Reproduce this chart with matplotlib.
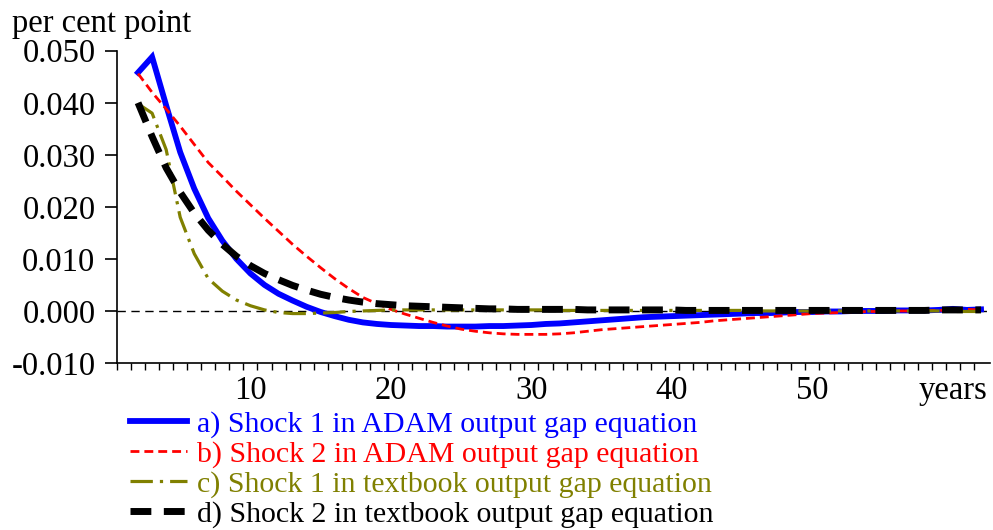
import matplotlib
matplotlib.use("Agg")
import matplotlib.pyplot as plt
import numpy as np

plt.rcParams['font.family'] = ['Liberation Serif', 'DejaVu Serif']

years = list(range(2, 63))

shock1_adam = [0.0458, 0.0488, 0.0395, 0.0305, 0.0235, 0.0178, 0.0135, 0.0100, 0.0072,
               0.0050, 0.0033, 0.0020, 0.0008, -0.0002, -0.0010, -0.0017, -0.0022, -0.0025,
               -0.0027, -0.0028, -0.0029, -0.0029, -0.0030, -0.0030, -0.0030, -0.0029, -0.0029,
               -0.0028, -0.0027, -0.0025, -0.0024, -0.0022, -0.0020, -0.0018, -0.0016, -0.0014,
               -0.0012, -0.0011, -0.0010, -0.0009, -0.0008, -0.0007, -0.0006, -0.0005, -0.0004,
               -0.0004, -0.0003, -0.0002, -0.0002, -0.0001, -0.0001, 0.0000, 0.0000, 0.0000,
               0.0001, 0.0001, 0.0001, 0.0002, 0.0004, 0.0002, 0.0003]

shock2_adam = [0.0456, 0.0420, 0.0388, 0.0355, 0.0320, 0.0285, 0.0258, 0.0230, 0.0204,
               0.0178, 0.0153, 0.0128, 0.0105, 0.0083, 0.0062, 0.0043, 0.0026, 0.0014,
               0.0003, -0.0006, -0.0014, -0.0022, -0.0029, -0.0035, -0.0039, -0.0042, -0.0044,
               -0.0045, -0.0045, -0.0045, -0.0044, -0.0042, -0.0039, -0.0036, -0.0034, -0.0032,
               -0.0030, -0.0028, -0.0026, -0.0024, -0.0022, -0.0019, -0.0017, -0.0015, -0.0013,
               -0.0011, -0.0009, -0.0007, -0.0005, -0.0004, -0.0003, -0.0002, -0.0001, -0.0001,
               0.0000, 0.0000, 0.0001, 0.0001, 0.0002, 0.0003, 0.0002]

shock1_textbook = [0.0398, 0.0380, 0.0310, 0.0180, 0.0110, 0.0062, 0.0038, 0.0021, 0.0010,
                   0.0002, -0.0003, -0.0005, -0.0005, -0.0004, -0.0003, -0.0001, 0.0000, 0.0001,
                   0.0002, 0.0002, 0.0002, 0.0002, 0.0002, 0.0002, 0.0002, 0.0002, 0.0002,
                   0.0002, 0.0002, 0.0002, 0.0001, 0.0001, 0.0001, 0.0001, 0.0001, 0.0001,
                   0.0001, 0.0001, 0.0001, 0.0001, 0.0001, 0.0001, 0.0001, 0.0001, 0.0000,
                   0.0000, 0.0000, 0.0000, 0.0000, 0.0000, 0.0000, 0.0000, 0.0000, 0.0000,
                   0.0000, 0.0000, 0.0000, 0.0000, -0.0001, -0.0001, -0.0001]

shock2_textbook = [0.0400, 0.0335, 0.0275, 0.0228, 0.0188, 0.0155, 0.0128, 0.0105, 0.0087,
                   0.0072, 0.0060, 0.0049, 0.0040, 0.0032, 0.0026, 0.0021, 0.0017, 0.0014,
                   0.0012, 0.0010, 0.0009, 0.0008, 0.0007, 0.0006, 0.0005, 0.0004, 0.0004,
                   0.0003, 0.0003, 0.0003, 0.0003, 0.0003, 0.0002, 0.0002, 0.0002, 0.0002,
                   0.0002, 0.0002, 0.0002, 0.0001, 0.0001, 0.0001, 0.0001, 0.0001, 0.0001,
                   0.0001, 0.0001, 0.0001, 0.0001, 0.0001, 0.0001, 0.0001, 0.0001, 0.0001,
                   0.0001, 0.0001, 0.0001, 0.0002, 0.0002, 0.0002, 0.0002]

labels = ["a) Shock 1 in ADAM output gap equation",
          "b) Shock 2 in ADAM output gap equation",
          "c) Shock 1 in textbook output gap equation",
          "d) Shock 2 in textbook output gap equation"]
colors = ["#0000ff", "#ff0000", "#808000", "#000000"]

y_ticks = [-0.010, 0.000, 0.010, 0.020, 0.030, 0.040, 0.050]
y_ticklabels = ["-0.010", "0.000", "0.010", "0.020", "0.030", "0.040", "0.050"]
x_ticks = [10, 20, 30, 40, 50, 60]
x_ticklabels = ["10", "20", "30", "40", "50", "years"]
y_unit = "per cent point"

FS = 23.5
LFS = 21.5

fig = plt.figure(figsize=(9.93, 5.30), dpi=100)
ax = fig.add_axes([0.1178, 0.3151, 0.8792, 0.5892])

ax.axhline(0, color='black', lw=1.0, ls=(0, (6, 4)), zorder=1)

l1, = ax.plot(years, shock1_adam, color=colors[0], lw=4.2, solid_joinstyle='miter', zorder=2)
l2, = ax.plot(years, shock2_adam, color=colors[1], lw=2.0, ls=(0, (3.2, 1.8)), zorder=3)
l3, = ax.plot(years, shock1_textbook, color=colors[2], lw=2.3, ls=(0, (7.0, 2.2, 1.0, 2.2)), zorder=4)
l4, = ax.plot(years, shock2_textbook, color=colors[3], lw=5.0, ls=(0, (3.0, 1.8)), zorder=5)

ax.set_xlim(0.5, 62.64)
ax.set_ylim(-0.010, 0.050)

for s in ['top', 'right']:
    ax.spines[s].set_visible(False)
ax.spines['left'].set_linewidth(1.2)
ax.spines['bottom'].set_linewidth(1.2)

ax.set_yticks(y_ticks)
ax.set_yticklabels(y_ticklabels, fontsize=FS)
ax.tick_params(axis='y', direction='out', length=8.5, width=1.2, pad=7)

ax.set_xticks(x_ticks)
ax.set_xticklabels(x_ticklabels, fontsize=FS)
ax.set_xticks(np.arange(0.5, 62.0, 1.0), minor=True)
ax.tick_params(axis='x', which='major', length=0, pad=9)
ax.tick_params(axis='x', which='minor', direction='out', length=5, width=1.0)

fig.text(12 / 993, 1 - 24 / 530, y_unit, fontsize=FS, ha='left', va='center')

leg = fig.legend([l1, l2, l3, l4], labels, loc='upper left',
                 bbox_to_anchor=(130 / 993, 1 - 411 / 530), frameon=False,
                 fontsize=LFS, handlelength=1.9, handletextpad=0.35,
                 labelspacing=0.09, borderpad=0, borderaxespad=0)
for txt, c in zip(leg.get_texts(), colors):
    txt.set_color(c)

fig.savefig("out.png", dpi=100)
